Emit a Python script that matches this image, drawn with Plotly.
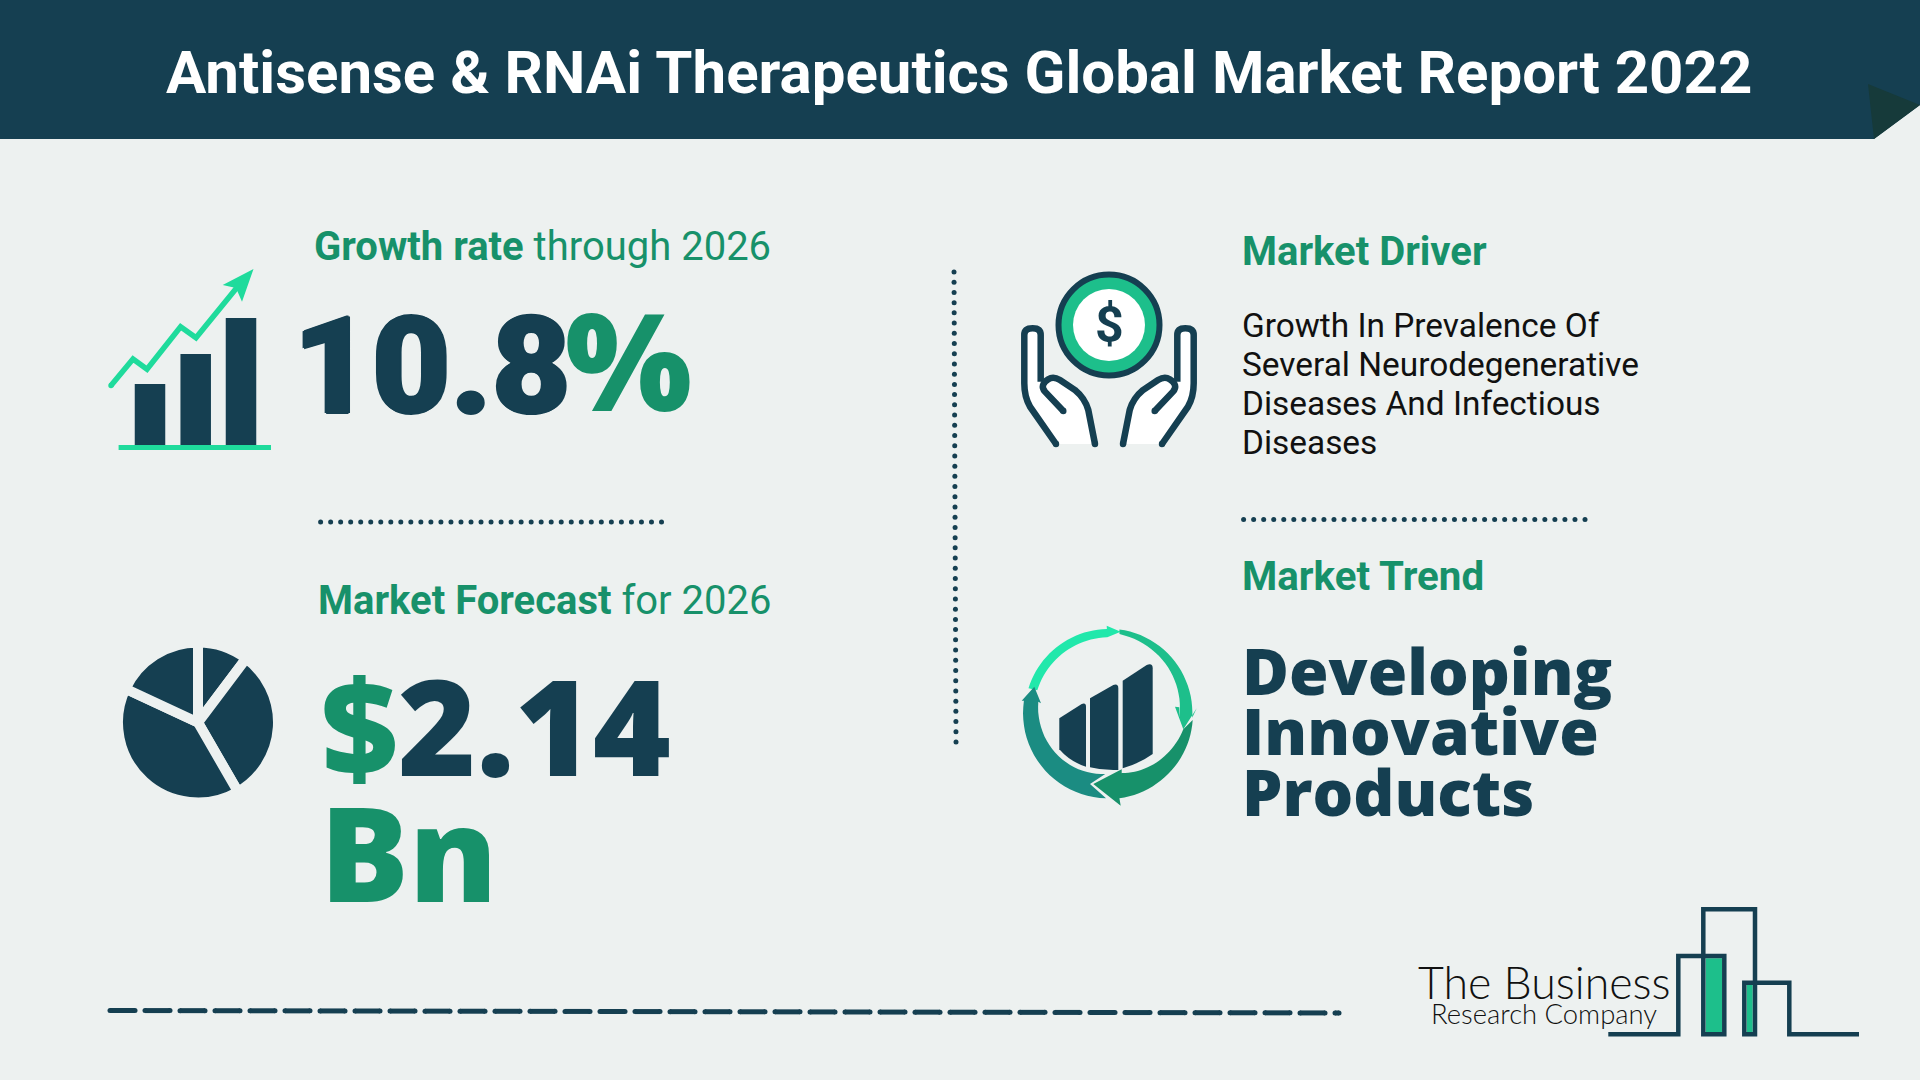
import numpy as np
import plotly.graph_objects as go

# ---- content ----
title = "Antisense &amp; RNAi Therapeutics Global Market Report 2022"
growth_rate = 10.8
forecast_value = 2.14
forecast_year = 2026
driver_lines = ["Growth In Prevalence Of", "Several Neurodegenerative", "Diseases And Infectious", "Diseases"]
trend_lines = ["Developing", "Innovative", "Products"]
icon_bar_heights = [61, 91, 127]
icon_pie_values = [37, 113, 145, 65]

DARK = "#153F51"
GREEN = "#17916A"
BRIGHT = "#1FDB9C"
MID = "#1DBF8B"
BG = "#EDF1F0"
RB = "Roboto, sans-serif"
OS = "'Open Sans', sans-serif"

fig = go.Figure()
shapes, annos = [], []


def text(x, y, s, size, color=DARK, font=RB, weight=400, anchor="left", shadow=None):
    f = dict(family=font, size=size, color=color, weight=weight)
    if shadow:
        f["shadow"] = shadow
    annos.append(dict(x=x, y=y, text=s, xref="x", yref="y", showarrow=False, xanchor=anchor, yanchor="middle",
                      align=anchor, font=f))


def path(d, fill=None, line=None, width=0, layer="above"):
    shapes.append(dict(type="path", path=d, xref="x", yref="y", layer=layer, fillcolor=fill or "rgba(0,0,0,0)",
                       line=dict(color=line or "rgba(0,0,0,0)", width=width)))


def local(cmds, ox, oy, k=1 / 3, mirror=None):
    """cmds: list of (letter, x, y, ...) in zoomed icon units -> SVG path in page pixels."""
    out = []
    for c in cmds:
        if c[0] == "Z":
            out.append("Z")
            continue
        vals = list(c[1:])
        pts = []
        for i in range(0, len(vals), 2):
            x = vals[i] if mirror is None else mirror - vals[i]
            pts.append(f"{ox + x * k:.1f},{oy + vals[i + 1] * k:.1f}")
        out.append(c[0] + " ".join(pts))
    return " ".join(out)


def arc(cx, cy, r0, r1, a0, a1, n=24):
    """Polyline commands along a ring; angles clockwise from the top, degrees."""
    res = []
    for a, r in zip(np.radians(np.linspace(a0, a1, n)), np.linspace(r0, r1, n)):
        res.append(("L", cx + r * np.sin(a), cy - r * np.cos(a)))
    return res


def circle(cx, cy, r, fill=None, line=None, width=0):
    shapes.append(dict(type="circle", xref="x", yref="y", x0=cx - r, x1=cx + r, y0=cy - r, y1=cy + r,
                       fillcolor=fill or "rgba(0,0,0,0)", line=dict(color=line or "rgba(0,0,0,0)", width=width)))


def dots(x0, y0, x1, y1, n):
    fig.add_trace(go.Scatter(x=np.linspace(x0, x1, n), y=np.linspace(y0, y1, n), mode="markers",
                             marker=dict(size=5, color=DARK), hoverinfo="skip", showlegend=False))


# header band
path("M0,0 L1920,0 L1920,105 L1874,139 L0,139 Z", fill=DARK)
path("M1868,84 L1920,105 L1874,139 Z", fill="#163A3A")
text(959, 72, title, 60, color="white", weight=700, anchor="center")

# growth block
text(312, 246, f"<b>Growth rate</b> through {forecast_year}", 40, color=GREEN)
heavy = "1.6px 0 0 {c}, -1.6px 0 0 {c}, 0 1.2px 0 {c}, 0 -1.2px 0 {c}"
text(291, 366, f"{growth_rate}", 136, weight=900, shadow=heavy.format(c=DARK))
text(563, 359, "%", 134, color=GREEN, font=OS, weight=800)

fig.add_trace(go.Bar(x=[150, 195.7, 241], y=[-h for h in icon_bar_heights], base=445, width=30.5,
                     marker=dict(color=DARK, line=dict(width=0)), hoverinfo="skip", showlegend=False))
shapes.append(dict(type="rect", xref="x", yref="y", x0=118.6, x1=271, y0=445, y1=450, fillcolor=BRIGHT,
                   line=dict(width=0)))
path("M111,385.5 L133,359 L147,369.3 L180.6,326.7 L196,337.7 L239,285", line=BRIGHT, width=5.5)
circle(111, 385.5, 2.7, fill=BRIGHT)
path("M253.5,269 L222.7,285 L236,288 L242,301.7 Z", fill=BRIGHT)

dots(320.6, 522, 661.5, 522, 35)

# forecast block
text(316, 600, f"<b>Market Forecast</b> for {forecast_year}", 40, color=GREEN)
text(318.5, 724, f"<span style='color:{GREEN}'>$</span>{forecast_value}", 133.4, font=OS, weight=800)
text(318, 851, "Bn", 132, color=GREEN, font=OS, weight=800)
fig.add_trace(go.Pie(values=icon_pie_values, sort=False, direction="clockwise", rotation=0,
                     domain=dict(x=[(198 - 80) / 1920, (198 + 80) / 1920], y=[1 - (722.5 + 80) / 1080, 1 - (722.5 - 80) / 1080]),
                     marker=dict(colors=[DARK] * 4, line=dict(color=BG, width=10)),
                     textinfo="none", hoverinfo="skip", showlegend=False))

# vertical divider
dots(954, 272, 956, 742, 47)

# driver block
text(1240, 251.5, "<b>Market Driver</b>", 40, color=GREEN)
for i, line in enumerate(driver_lines):
    text(1239.5, 325 + 39 * i, line, 33.4, color="#111")

# hands + coin icon
OX, OY = 980, 240
for m in (None, 774):
    path(local([("M", 228, 612), ("L", 150, 500), ("L", 133, 430), ("L", 133, 285), ("Q", 158, 262, 182, 285), ("L", 182, 425),
                ("Q", 220, 400, 290, 460), ("L", 320, 500), ("L", 345, 612), ("Z",)], OX, OY, mirror=m), fill="white")
    path(local([("M", 228, 612), ("L", 150, 500), ("Q", 133, 470, 133, 430), ("L", 133, 285), ("Q", 133, 265, 158, 265),
                ("Q", 182, 265, 182, 285), ("L", 182, 425)], OX, OY, mirror=m), line=DARK, width=6.5)
    path(local([("M", 250, 513), ("L", 195, 455), ("Q", 178, 435, 205, 418), ("Q", 220, 408, 240, 420), ("L", 285, 450),
                ("Q", 315, 475, 325, 510), ("L", 345, 612)], OX, OY, mirror=m), line=DARK, width=6.5)
    for (px, py) in [(228, 612), (250, 513), (345, 612)]:
        xx = px if m is None else m - px
        circle(OX + xx / 3, OY + py / 3, 3.2, fill=DARK)
circle(1109, 325, 50.5, fill=MID, line=DARK, width=6)
circle(1109, 325, 36, fill="white")
text(1109, 325, "<b>$</b>", 50, anchor="center")

dots(1243.6, 519.5, 1585, 519.5, 35)

# trend block
text(1240, 576.5, "<b>Market Trend</b>", 40.3, color=GREEN)
for i, line in enumerate(trend_lines):
    text(1239.5, 670 + 60.5 * i, line, 64, font=OS, weight=800)

TX, TY = 1000, 610
CX, CY = 325, 310


def ring_poly(outer, head, inner, tail=()):
    cmds = [("M", outer[0][1], outer[0][2])] + outer[1:] + [("L", *p) for p in head] + inner + [("L", *p) for p in tail] + [("Z",)]
    return cmds


path(local(ring_poly(arc(CX, CY, 251, 253, -72.6, -1), [(320, 47), (362, 65), (322, 82)], arc(CX, CY, 228, 224, -1, -72)), TX, TY), fill="#21E8AB")
path(local(ring_poly(arc(CX, CY, 254, 252, 7.5, 93), [(590, 295), (550, 358), (525, 290), (538, 292)], arc(CX, CY, 213, 240, 93, 8)), TX, TY), fill=MID)
path(local(ring_poly(arc(CX, CY, 254, 257, 94.5, 172.6), [(362, 587), (280, 522), (365, 478), (365, 490)], arc(CX, CY, 184, 230, 167, 102)), TX, TY), fill=GREEN)
path(local(ring_poly(arc(CX, CY, 255, 256, 181.6, 278.5), [(65, 272), (103, 230), (123, 280), (115, 275)], arc(CX, CY, 213, 182, 279.5, 183), [(270, 522)]), TX, TY), fill="#1B8C82")
path(local([("M", 178, 325), ("L", 245, 282), ("Q", 258, 277, 258, 290), ("L", 258, 470), ("Q", 210, 455, 178, 418), ("Z",)], TX, TY), fill=DARK)
path(local([("M", 270, 265), ("L", 340, 225), ("Q", 355, 220, 355, 235), ("L", 355, 480), ("Q", 310, 482, 270, 472), ("Z",)], TX, TY), fill=DARK)
path(local([("M", 368, 212), ("L", 440, 165), ("Q", 458, 158, 458, 175), ("L", 458, 432), ("Q", 420, 460, 368, 475), ("Z",)], TX, TY), fill=DARK)

# bottom dashed rule (rounded dashes)
dash_x, dash_y = [], []
for x in np.arange(110, 1338, 35.0):
    y = 1010.5 + (x - 108) / (1341 - 108) * 2.5
    dash_x += [x, min(x + 25, 1339), None]
    dash_y += [y, y, None]
fig.add_trace(go.Scatter(x=dash_x, y=dash_y, mode="lines+markers", line=dict(color=DARK, width=5),
                         marker=dict(size=5, color=DARK), hoverinfo="skip", showlegend=False))

# logo
LX, LY = 1380, 890
path(local([("M", 977, 205), ("L", 1027, 205), ("L", 1027, 427), ("L", 977, 427), ("Z",)], LX, LY), fill=MID)
path(local([("M", 1100, 285), ("L", 1118, 285), ("L", 1118, 427), ("L", 1100, 427), ("Z",)], LX, LY), fill=MID)
path(local([("M", 685, 433), ("L", 895, 433), ("L", 895, 198), ("L", 1033, 198), ("L", 1033, 433), ("L", 970, 433), ("L", 970, 58),
            ("L", 1125, 58), ("L", 1125, 433), ("L", 1093, 433), ("L", 1093, 278), ("L", 1228, 278), ("L", 1228, 433),
            ("L", 1437, 433)], LX, LY), line=DARK, width=4.5)
text(1415.5, 982, "The Business", 44.7, color="#111", font="Lato, sans-serif", weight=300)
text(1428.5, 1013, "Research Company", 27.4, color="#111", font="Lato, sans-serif", weight=300)

fig.update_layout(
    width=1920, height=1080, margin=dict(l=0, r=0, t=0, b=0), autosize=False,
    paper_bgcolor=BG, plot_bgcolor=BG, showlegend=False, barmode="overlay", shapes=shapes, annotations=annos,
    xaxis=dict(range=[0, 1920], visible=False, fixedrange=True),
    yaxis=dict(range=[1080, 0], visible=False, fixedrange=True),
)
fig.write_html("out.html", post_script="document.body.style.margin='0';document.body.style.background='%s';" % BG,
               config={"displayModeBar": False})
